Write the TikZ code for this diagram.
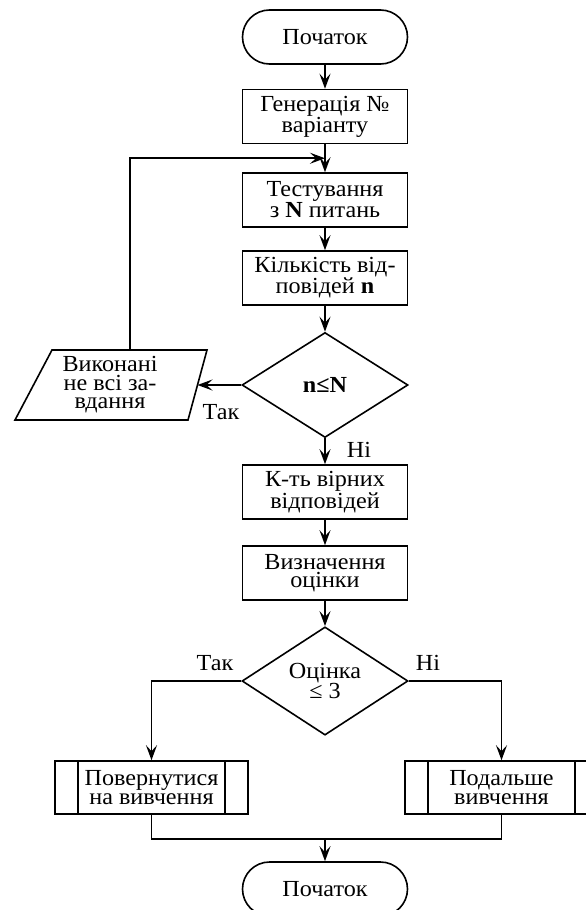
\documentclass[tikz,border=0pt]{standalone}
\usepackage{fontspec}
\setmainfont{Liberation Serif}[FakeStretch=1.05]
\usetikzlibrary{arrows.meta,shapes.geometric,calc}

\tikzset{
  txt/.style={font=\fontsize{23}{18.5}\selectfont, align=center, inner sep=0pt},
  stepbox/.style={txt, draw, line width=1.6pt, minimum width=165pt, minimum height=54pt},
  terminal/.style={stepbox, rounded corners=27pt},
  decision/.style={txt, draw, line width=1.6pt, diamond, minimum width=166pt},
  subproc/.style={stepbox, minimum width=193pt, minimum height=53pt,
    path picture={
      \draw[line width=1.6pt]
        ([xshift=23pt]path picture bounding box.north west) --
        ([xshift=23pt]path picture bounding box.south west)
        ([xshift=-23pt]path picture bounding box.north east) --
        ([xshift=-23pt]path picture bounding box.south east);
    }},
  conn/.style={line width=1.6pt},
  arr/.style={conn, -{Stealth[length=15pt, width=11pt, inset=6pt]}},
  lbl/.style={font=\fontsize{23}{18.5}\selectfont, inner sep=0pt},
}

\begin{document}
\begin{tikzpicture}[x=1pt, y=-1pt]
  \useasboundingbox (0,0) rectangle (586,910);
  \clip (0,0) rectangle (586,910);

  % main column
  \node[terminal] (start) at (325,37)    {Початок};
  \node[stepbox]  (gen)   at (325,116.5) {Генерація №\\варіанту};
  \node[stepbox]  (test)  at (325,200)   {Тестування\\з \textbf{N} питань};
  \node[stepbox]  (cnt)   at (325,278)   {Кількість від-\\повідей \textbf{n}};
  \node[decision, minimum height=105pt] (cmp) at (325,385) {\textbf{n≤N}};
  \node[stepbox]  (right) at (325,492)   {К-ть вірних\\відповідей};
  \node[stepbox]  (mark)  at (325,573)   {Визначення\\оцінки};
  \node[decision, minimum height=107pt] (grade) at (325,681) {Оцінка\\≤ 3};

  % branch results
  \node[subproc] (back) at (151.5,787.5) {Повернутися\\на вивчення};
  \node[subproc] (next) at (501.5,787.5) {Подальше\\вивчення};
  \node[terminal] (stop) at (325,889) {Початок};

  % input/output block for the repeat loop
  \coordinate (pA) at (52,350);
  \coordinate (pB) at (207,350);
  \coordinate (pC) at (188,420);
  \coordinate (pD) at (15,420);
  \draw[conn] (pA) -- (pB) -- (pC) -- (pD) -- cycle;
  \node[txt] (todo) at (110,385) {Виконані\\не всі за-\\вдання};
  \coordinate (todoR) at (197.5,385);
  \coordinate (todoT) at (130,350);

  % flow
  \draw[arr] (start) -- (gen);
  \draw[arr] (gen) -- (test);
  \draw[arr] (test) -- (cnt);
  \draw[arr] (cnt) -- (cmp);
  \draw[arr] (cmp.west) -- (todoR);
  \draw[arr] (todoT) |- ($(gen.south)!0.5!(test.north)$);
  \draw[arr] (cmp.south) -- (right);
  \draw[arr] (right) -- (mark);
  \draw[arr] (mark) -- (grade);
  \draw[arr] (grade.west) -| (back.north);
  \draw[arr] (grade.east) -| (next.north);
  \coordinate (merge) at (325,839);
  \draw[conn] (back.south) |- (merge) -| (next.south);
  \draw[arr] (merge) -- (stop.north);

  % branch labels
  \node[lbl] at (221,412) {Так};
  \node[lbl] at (359,450) {Ні};
  \node[lbl] at (215,663) {Так};
  \node[lbl] at (428,663) {Ні};
\end{tikzpicture}
\end{document}
